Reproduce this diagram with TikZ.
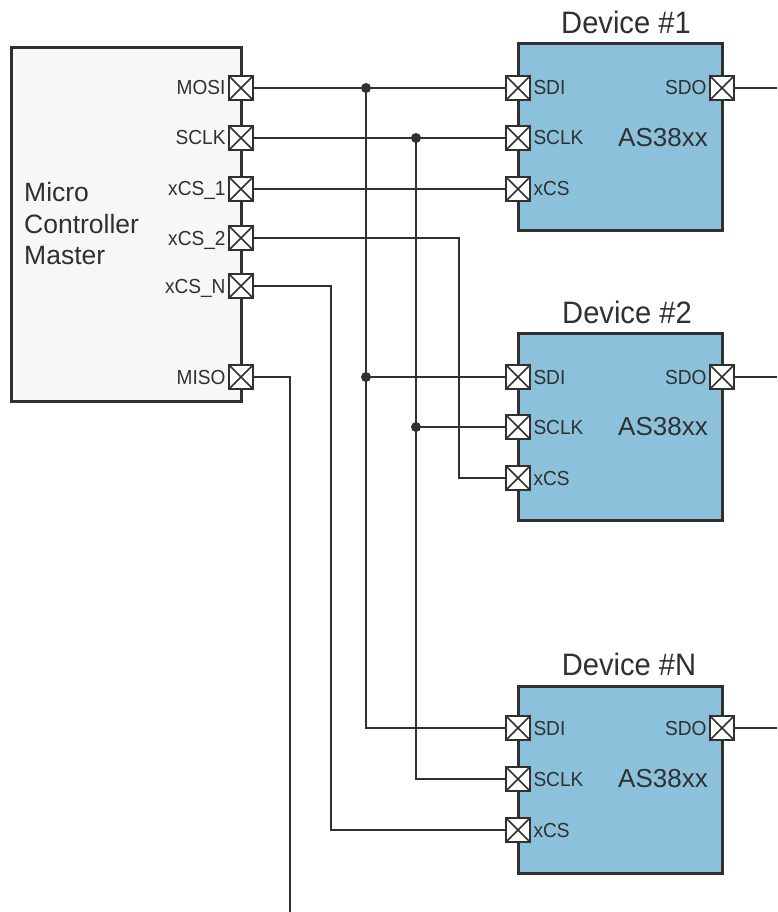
\documentclass[tikz,border=0pt]{standalone}
\usepackage{fontspec}
\setmainfont{Liberation Sans}
\newfontfamily\condfont[FakeStretch=0.94]{Liberation Sans}
\definecolor{ink}{HTML}{303030}
\definecolor{devfill}{HTML}{8CC1DC}
\definecolor{mfill}{HTML}{F7F7F7}
\pgfdeclarelayer{bg}
\pgfsetlayers{bg,main}
\tikzset{
  wire/.style={draw=ink, line width=2.2pt},
  pinbox/.style={draw=ink, fill=white, line width=2.6pt, minimum size=24pt, inner sep=0pt,
    path picture={\draw[ink, line width=1.7pt]
      (path picture bounding box.north west) -- (path picture bounding box.south east)
      (path picture bounding box.north east) -- (path picture bounding box.south west);}},
  devbox/.style={draw=ink, fill=devfill, line width=3pt, minimum width=204pt, minimum height=187pt, inner sep=0pt},
  masterbox/.style={draw=ink, fill=mfill, line width=3pt, minimum width=230pt, minimum height=353pt, inner sep=0pt},
  jdot/.style={circle, fill=ink, inner sep=0pt, minimum size=10pt},
  plabel/.style={inner sep=0pt, text=ink, font=\condfont\fontsize{20.3}{22}\selectfont},
  dtitle/.style={inner sep=0pt, text=ink, font=\condfont\fontsize{31}{33}\selectfont, anchor=base},
  partname/.style={inner sep=0pt, text=ink, font=\fontsize{26}{28}\selectfont},
}
\begin{document}
\begin{tikzpicture}[x=1pt,y=-1pt]
\useasboundingbox (0,0) rectangle (777,912);

% master
\node[masterbox] (master) at (126,224.5) {};
\node[inner sep=0pt, text=ink, anchor=west, align=left, font=\fontsize{26.5}{31.5}\selectfont] (mlabel) at (24,224) {Micro\\Controller\\Master};

% devices
\node[devbox] (dev1) at (620,137) {};
\node[devbox] (dev2) at (620,426.5) {};
\node[devbox] (devN) at (620,779.5) {};
\node[dtitle] (t1) at ([yshift=8pt]dev1.north -| 626,0) {Device \#1};
\node[dtitle] (t2) at ([yshift=8pt]dev2.north -| 627,0) {Device \#2};
\node[dtitle] (tN) at ([yshift=9pt]devN.north -| 629,0) {Device \#N};
\node[partname] (p1) at (663,138) {AS38xx};
\node[partname] (p2) at (663,427) {AS38xx};
\node[partname] (pN) at (663,779) {AS38xx};

% master pins
\node[pinbox] (mMOSI) at (241,88) {};
\node[pinbox] (mSCLK) at (241,138) {};
\node[pinbox] (mCS1) at (241,189) {};
\node[pinbox] (mCS2) at (241,238) {};
\node[pinbox] (mCSN) at (241,286) {};
\node[pinbox] (mMISO) at (241,377) {};
\foreach \p/\t in {mMOSI/MOSI, mSCLK/SCLK, mCS1/xCS\_1, mCS2/xCS\_2, mCSN/xCS\_N, mMISO/MISO}
  \node[plabel, anchor=base east] (\p-l) at ([xshift=-2pt,yshift=-7pt]\p.west) {\t};

% device pins
\foreach \d/\ya/\yb/\yc in {1/88/138/189, 2/377/427/478, N/728/779/830}{
  \node[pinbox] (d\d SDI) at (518,\ya) {};
  \node[pinbox] (d\d SCLK) at (518,\yb) {};
  \node[pinbox] (d\d CS) at (518,\yc) {};
  \node[pinbox] (d\d SDO) at (722,\ya) {};
  \node[plabel, anchor=base west] (d\d SDI-l) at ([xshift=2pt,yshift=-7pt]d\d SDI.east) {SDI};
  \node[plabel, anchor=base west] (d\d SCLK-l) at ([xshift=2pt,yshift=-7pt]d\d SCLK.east) {SCLK};
  \node[plabel, anchor=base west] (d\d CS-l) at ([xshift=2pt,yshift=-7pt]d\d CS.east) {xCS};
  \node[plabel, anchor=base east] (d\d SDO-l) at ([xshift=-2pt,yshift=-7pt]d\d SDO.west) {SDO};
}

% bus coordinates
\coordinate (busMOSI) at (366,0);
\coordinate (busSCLK) at (416,0);
\coordinate (busCS2) at (459,0);
\coordinate (busCSN) at (331,0);
\coordinate (misoEnd) at (290,912);
\coordinate (redge) at (777,0);

\begin{pgfonlayer}{bg}
  \fill[white] (0,0) rectangle (777,912);
  % MOSI
  \draw[wire] (mMOSI.east) -- (d1SDI.west);
  \draw[wire] (busMOSI |- mMOSI) |- (dNSDI.west);
  \draw[wire] (busMOSI |- d2SDI) -- (d2SDI.west);
  % SCLK
  \draw[wire] (mSCLK.east) -- (d1SCLK.west);
  \draw[wire] (busSCLK |- mSCLK) |- (dNSCLK.west);
  \draw[wire] (busSCLK |- d2SCLK) -- (d2SCLK.west);
  % chip selects
  \draw[wire] (mCS1.east) -- (d1CS.west);
  \draw[wire] (mCS2.east) -- (busCS2 |- mCS2) |- (d2CS.west);
  \draw[wire] (mCSN.east) -- (busCSN |- mCSN) |- (dNCS.west);
  % MISO
  \draw[wire] (mMISO.east) -| (misoEnd);
  % SDO
  \draw[wire] (d1SDO.east) -- (redge |- d1SDO);
  \draw[wire] (d2SDO.east) -- (redge |- d2SDO);
  \draw[wire] (dNSDO.east) -- (redge |- dNSDO);
\end{pgfonlayer}

% junction dots
\node[jdot] (j1) at (busMOSI |- mMOSI) {};
\node[jdot] (j2) at (busMOSI |- d2SDI) {};
\node[jdot] (j3) at (busSCLK |- mSCLK) {};
\node[jdot] (j4) at (busSCLK |- d2SCLK) {};
\end{tikzpicture}
\end{document}
